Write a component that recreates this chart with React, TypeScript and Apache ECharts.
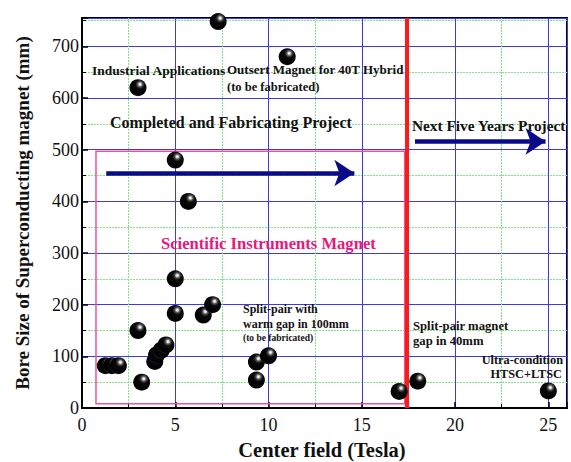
import React, { useEffect, useRef } from "react";
import * as echarts from "echarts";

// Center field (Tesla), bore size (mm)
const fieldTesla = [7.3, 11.0, 3.0, 5.0, 5.7, 5.0, 5.0, 6.5, 7.0, 3.0, 1.25, 1.6, 1.95, 3.2, 3.9, 4.0, 4.25, 4.5, 9.35, 9.35, 10.0, 17.0, 18.0, 25.0];
const boreMm = [748, 680, 620, 480, 400, 250, 183, 180, 200, 150, 82, 82, 82, 50, 90, 103, 112, 122, 89, 54, 101, 32, 52, 33];

const xTicks = [0, 5, 10, 15, 20, 25];
const yTicks = [0, 100, 200, 300, 400, 500, 600, 700];

const boundaryField = 17.4;
const boxCorners = [[0.75, 8], [17.3, 497]];
const arrowCompleted = [[1.3, 455], [14.6, 455]];
const arrowNext = [[17.85, 516], [24.85, 516]];

const SERIF = '"Liberation Serif", "Times New Roman", serif';

export default function App() {
  const ref = useRef<HTMLDivElement>(null);
  useEffect(() => {
    if (!ref.current) return;
    const chart = echarts.init(ref.current, null, { renderer: "svg" });
    const points = fieldTesla.map((x, i) => [x, boreMm[i]]);
    const txt = (text: string, x: number, y: number, size: number, opts: any = {}) => ({
      type: "text",
      x,
      y,
      z: 100,
      style: {
        text,
        fontFamily: SERIF,
        fontWeight: "bold",
        fontSize: size,
        fill: opts.fill || "#111",
        textAlign: opts.align || "left",
        textVerticalAlign: "middle",
      },
    });
    chart.setOption({
      animation: false,
      backgroundColor: "#fff",
      grid: {
        left: 82,
        right: 4,
        top: 18,
        bottom: 54,
        show: true,
        borderColor: "#000",
        borderWidth: 2,
        backgroundColor: "transparent",
      },
      xAxis: {
        type: "value",
        min: 0,
        max: 26,
        interval: 5,
        axisLine: { show: true, lineStyle: { color: "#000", width: 2 } },
        axisTick: { show: true, inside: true, length: 6, lineStyle: { color: "#000", width: 1.5 } },
        minorTick: { show: true, splitNumber: 2, length: 4, lineStyle: { color: "#000" } },
        axisLabel: {
          fontFamily: SERIF,
          fontSize: 18,
          color: "#111",
          margin: 8,
          showMaxLabel: false,
          formatter: (v: number) => (xTicks.includes(v) ? String(v) : ""),
        },
        splitLine: { show: true, lineStyle: { color: "#3b3bea", width: 1 } },
        minorSplitLine: { show: true, lineStyle: { color: "#86e086", width: 1, type: [2, 1] } },
      },
      yAxis: {
        type: "value",
        min: 0,
        max: 755,
        interval: 100,
        name: "Bore Size of Superconducting magnet (mm)",
        nameLocation: "middle",
        nameRotate: 90,
        nameGap: 50,
        nameTextStyle: { fontFamily: SERIF, fontWeight: "bold", fontSize: 19, color: "#111" },
        axisLine: { show: true, lineStyle: { color: "#000", width: 2 } },
        axisTick: { show: true, inside: true, length: 6, lineStyle: { color: "#000", width: 1.5 } },
        minorTick: { show: true, splitNumber: 2, length: 4, lineStyle: { color: "#000" } },
        axisLabel: {
          fontFamily: SERIF,
          fontSize: 18,
          color: "#111",
          margin: 3,
          showMaxLabel: false,
          formatter: (v: number) => (yTicks.includes(v) ? String(v) : ""),
        },
        splitLine: { show: true, lineStyle: { color: "#3b3bea", width: 1 } },
        minorSplitLine: { show: true, lineStyle: { color: "#86e086", width: 1, type: [2, 1] } },
      },
      series: [
        {
          type: "scatter",
          data: points,
          symbolSize: 17,
          z: 5,
          itemStyle: {
            opacity: 1,
            color: {
              type: "radial",
              x: 0.62,
              y: 0.3,
              r: 0.75,
              colorStops: [
                { offset: 0, color: "#ffffff" },
                { offset: 0.08, color: "#e0e0e0" },
                { offset: 0.2, color: "#555555" },
                { offset: 0.36, color: "#0a0a0a" },
                { offset: 0.85, color: "#000000" },
                { offset: 1, color: "#2a2a2a" },
              ],
            },
          },
          markArea: {
            silent: true,
            itemStyle: { color: "rgba(0,0,0,0)", borderColor: "#e8559a", borderWidth: 1.5 },
            data: [[{ coord: boxCorners[0] }, { coord: boxCorners[1] }]],
          },
          markLine: {
            silent: true,
            symbol: ["none", "none"],
            label: { show: false },
            lineStyle: { color: "#ff1a1a", width: 4, type: "solid" },
            data: [{ xAxis: boundaryField }],
          },
        },
        {
          type: "scatter",
          data: [],
          markLine: {
            silent: true,
            symbol: ["none", "arrow"],
            symbolSize: 20,
            label: { show: false },
            lineStyle: { color: "#0b0b8a", width: 4.5, type: "solid" },
            itemStyle: { color: "#0b0b8a" },
            data: [
              [{ coord: arrowCompleted[0] }, { coord: arrowCompleted[1] }],
              [{ coord: arrowNext[0] }, { coord: arrowNext[1] }],
            ],
          },
        },
      ],
      graphic: [
        txt("Industrial Applications", 92, 70, 13.5),
        txt("Outsert Magnet for 40T Hybrid", 227, 69, 13),
        txt("(to be fabricated)", 227, 87, 12.5),
        txt("Completed and Fabricating Project", 110, 122, 16),
        txt("Next Five Years Project", 412, 125, 15.3),
        txt("Scientific Instruments Magnet", 161, 243, 16.6, { fill: "#e8177c" }),
        txt("Split-pair with", 243, 309, 12),
        txt("warm gap in 100mm", 243, 324, 12),
        txt("(to be fabricated)", 243, 338, 9.5),
        txt("Split-pair magnet", 413, 326, 12.7),
        txt("gap in 40mm", 413, 341, 12.7),
        txt("Ultra-condition", 563, 360, 12.3, { align: "right" }),
        txt("HTSC+LTSC", 562, 374, 12.3, { align: "right" }),
        {
          type: "text",
          x: 322,
          y: 450,
          style: {
            text: "Center field (Tesla)",
            fontFamily: SERIF,
            fontWeight: "bold",
            fontSize: 20.5,
            fill: "#111",
            textAlign: "center",
            textVerticalAlign: "middle",
          },
        },
      ],
    });
    return () => chart.dispose();
  }, []);
  return <div ref={ref} style={{ width: 571, height: 462, position: "absolute", left: 0, top: 0 }} />;
}
